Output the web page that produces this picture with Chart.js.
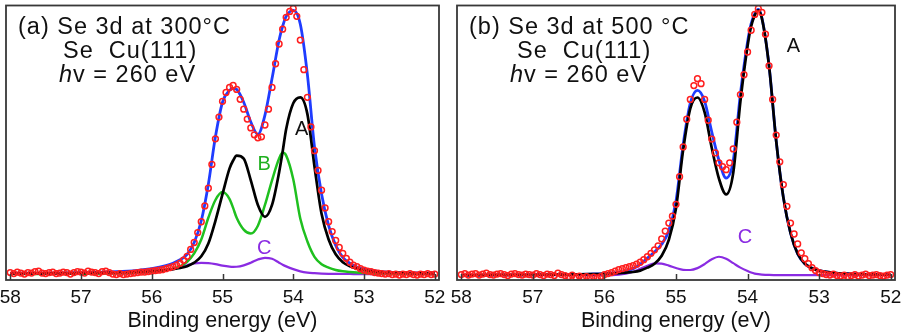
<!DOCTYPE html>
<html>
<head>
<meta charset="utf-8">
<title>Se 3d XPS on Cu(111)</title>
<script src="https://cdn.jsdelivr.net/npm/chart.js@4.4.0/dist/chart.umd.min.js"></script>
<style>
  html, body { margin: 0; padding: 0; background: #fff; }
  .wrap { position: relative; width: 902px; height: 334px; overflow: hidden; }
  .panel { position: absolute; top: 0; }
  #panel-a { left: 0; }
  #panel-b { left: 450px; }
</style>
</head>
<body>
<div class="wrap">
  <div class="panel" id="panel-a"><canvas id="chart-a" width="450" height="334"></canvas></div>
  <div class="panel" id="panel-b"><canvas id="chart-b" width="452" height="334"></canvas></div>
</div>
<script>
/* ---------- axis ---------- */
const tickEnergies = [58, 57, 56, 55, 54, 53, 52];

/* measured spectra share one energy grid (eV) */
const dataEnergy = [
  58.00,57.95,57.90,57.85,57.80,57.75,57.70,57.65,57.60,57.55,
  57.50,57.45,57.40,57.35,57.30,57.25,57.20,57.15,57.10,57.05,
  57.00,56.95,56.90,56.85,56.80,56.75,56.70,56.65,56.60,56.55,
  56.50,56.45,56.40,56.35,56.30,56.25,56.20,56.15,56.10,56.05,
  56.00,55.95,55.90,55.85,55.80,55.75,55.70,55.65,55.60,55.55,
  55.50,55.45,55.40,55.35,55.30,55.25,55.20,55.15,55.10,55.05,
  55.00,54.95,54.90,54.85,54.80,54.75,54.70,54.65,54.60,54.55,
  54.50,54.45,54.40,54.35,54.30,54.25,54.20,54.15,54.10,54.05,
  54.00,53.95,53.90,53.85,53.80,53.75,53.70,53.65,53.60,53.55,
  53.50,53.45,53.40,53.35,53.30,53.25,53.20,53.15,53.10,53.05,
  53.00,52.95,52.90,52.85,52.80,52.75,52.70,52.65,52.60,52.55,
  52.50,52.45,52.40,52.35,52.30,52.25,52.20,52.15,52.10,52.05,
  52.00
];

/* ---------- (a) 300 °C ---------- */
const a300Data = [
  2.5,1.5,3.0,2.0,1.0,2.5,2.0,3.5,4.0,2.0,
  1.5,2.5,3.0,1.5,2.0,3.0,2.5,1.0,2.5,3.5,
  3.0,2.0,4.0,3.0,2.5,1.5,3.5,4.0,2.5,1.0,
  0.5,1.5,0.5,1.0,1.5,2.0,2.5,3.0,3.0,3.5,
  4.0,4.5,5.0,5.5,6.5,7.5,8.5,10.0,12.0,15.0,
  19,26,33,43,54,70,88,112,138,160,
  176,185,190,192,188,178,168,158,149,142,
  139,140,152,168,190,214,234,249,261,267,
  270,262,238,208,180,150,126,106,86,68,
  54,44,35,28,22,17,13,10,8.5,6.5,
  5.0,4.0,3.5,2.5,2.0,1.5,1.0,1.5,0.5,1.0,
  0.0,1.0,0.5,1.5,0.5,0.0,1.0,0.5,1.5,0.5,
  1.0
];
const a300Energy = [58, 57.5, 57, 56.5, 56.2, 56.0, 55.8, 55.7, 55.6, 55.5,
  55.4, 55.3, 55.2, 55.1, 55.0, 54.9, 54.85, 54.8, 54.7, 54.6,
  54.5, 54.4, 54.3, 54.2, 54.15, 54.1, 54.0, 53.9, 53.8, 53.7,
  53.6, 53.5, 53.4, 53.3, 53.2, 53.1, 53.0, 52.8, 52.6, 52.4, 52.0];
const a300Total = [1.8, 2.0, 2.4, 3.4, 4.8, 6.5, 9.5, 12, 15.5, 21,
  33, 55, 92, 140, 175, 187, 189, 188, 175, 155,
  142.5, 162, 199, 238, 252, 262, 268, 254, 203, 130,
  82, 50, 30, 18, 12, 8, 6, 3.8, 2.8, 2.3, 2.0];
const a300CompA = [1.5, 1.7, 2.0, 2.6, 3.3, 4.0, 5.2, 6.0, 7.2, 9.0,
  12.5, 19, 32, 55, 82, 108, 116, 121, 118, 96,
  71, 59, 71, 104, 125, 148, 174, 180, 163, 110,
  62, 36, 21, 13, 9, 6.5, 5, 3.3, 2.5, 2.0, 1.6];
const a300CompB = [1.0, 1.2, 1.4, 1.9, 2.6, 3.4, 4.8, 6.3, 8.8, 13.5,
  22, 36, 58, 76, 84, 77, 68, 58, 46, 42,
  50, 71, 96, 118, 124, 121, 97, 57, 34, 18.5,
  11, 7.5, 5.2, 3.9, 3.1, 2.5, 2.1, 1.6, 1.3, 1.2, 1.0];
const a300CompC = [1.2, 1.2, 1.3, 1.5, 2.0, 2.8, 4.5, 6.0, 8.0, 10.0,
  11.8, 12.3, 12.0, 11.0, 9.5, 8.5, 8.3, 8.4, 9.8, 12.5,
  15.8, 17.5, 16.5, 12.5, 10.5, 8.8, 6.0, 3.8, 2.5, 1.9,
  1.5, 1.3, 1.2, 1.1, 1.1, 1.0, 1.0, 1.0, 1.0, 1.0, 1.0];

/* ---------- (b) 500 °C ---------- */
const b500Data = [
  1.0,2.0,0.5,1.5,2.0,0.5,1.5,2.5,1.0,0.5,
  1.5,2.0,1.0,0.0,1.5,2.0,1.0,0.5,1.5,1.0,
  0.5,2.0,1.0,0.0,1.5,1.0,0.0,2.5,1.0,0.0,
  -1.0,0.5,-1.5,-0.5,-2.0,-1.0,-2.5,-1.5,-2.5,-1.0,
  1.0,2.0,3.0,4.5,6.0,7.0,8.0,9.0,10.0,11.5,
  13.5,16,19,22.5,26,30,37,45,53,60,
  72,100,130,158,178,192,199,194,178,157,
  138,124,114,110,107,114,128,155,183,203,
  226,248,264,270,266,244,212,178,142,115,
  92,70,53,42,32,23,17,12,8,5,
  3.0,2.0,1.0,0.5,1.5,0.0,-0.5,0.5,-1.0,0.0,
  1.0,-0.5,0.5,1.5,0.0,0.5,1.0,0.0,-0.5,0.5,
  1.0
];
const b500Energy = [58, 57.5, 57, 56.5, 56.2, 56.0, 55.8, 55.7, 55.6, 55.5,
  55.4, 55.3, 55.2, 55.1, 55.0, 54.9, 54.8, 54.7, 54.6, 54.5,
  54.4, 54.3, 54.2, 54.1, 54.0, 53.95, 53.9, 53.85, 53.8, 53.7,
  53.6, 53.5, 53.4, 53.3, 53.2, 53.1, 53.0, 52.8, 52.6, 52.4, 52.0];
const b500Total = [0.5, 0.6, 0.8, 1.0, 1.5, 2.0, 3.1, 4.6, 7.0, 11.4,
  17.6, 23.9, 31.6, 45.6, 75.2, 132.4, 174.2, 187.1, 176.1, 145.1,
  116.6, 98.6, 116.1, 183.6, 236.1, 254.6, 264.6, 269, 260.6, 212.2,
  136.1, 79, 43, 22, 12, 7.5, 5, 2.8, 1.8, 1.3, 0.8];
const b500CompA = [0.5, 0.6, 0.8, 1.0, 1.4, 1.8, 2.5, 3.0, 3.6, 5.0,
  8.0, 12, 20, 36, 68, 127, 169, 180, 165, 129,
  98, 82, 104, 176, 232, 252, 263, 268, 260, 212,
  136, 79, 43, 22, 12, 7.5, 5.0, 2.8, 1.8, 1.3, 0.8];
const b500CompC = [0.3, 0.3, 0.3, 0.4, 0.5, 0.5, 1.0, 2.0, 3.8, 6.8,
  10.0, 12.3, 12.0, 10.0, 7.6, 5.8, 5.6, 7.5, 11.5, 16.5,
  19.0, 17.0, 12.5, 8.0, 4.5, 3.0, 2.0, 1.4, 1.0, 0.6,
  0.5, 0.4, 0.4, 0.4, 0.4, 0.4, 0.4, 0.4, 0.4, 0.4, 0.4];

const FONT = '"Liberation Sans", Arial, Helvetica, sans-serif';
const pts = (xs, ys) => xs.map((x, i) => ({ x, y: ys[i] }));

// frame, inward bottom ticks, header block and peak labels
const panelDecor = {
  id: 'panelDecor',
  afterDatasetsDraw(chart, args, o) {
    const { ctx, chartArea: a } = chart;
    const xs = chart.scales.x, ys = chart.scales.y;
    ctx.save();
    ctx.strokeStyle = '#383838';
    ctx.lineWidth = 1.8;
    ctx.strokeRect(a.left, a.top, a.right - a.left, a.bottom - a.top);
    ctx.lineWidth = 1.5;
    ctx.beginPath();
    xs.ticks.forEach(t => {
      const px = Math.round(xs.getPixelForValue(t.value)) + 0.5;
      ctx.moveTo(px, a.bottom);
      ctx.lineTo(px, a.bottom - 6);
    });
    ctx.stroke();

    ctx.fillStyle = '#111';
    ctx.textBaseline = 'alphabetic';
    ctx.textAlign = 'left';
    ctx.letterSpacing = '1px';
    ctx.font = `23.5px ${FONT}`;
    ctx.fillText(o.title, o.left[0], 34);
    ctx.fillText(o.sample, o.left[1], 58);
    ctx.font = `italic 23.5px ${FONT}`;
    ctx.fillText('h', o.left[2], 82);
    const hw = ctx.measureText('h').width;
    ctx.font = `23.5px ${FONT}`;
    ctx.fillText(o.photon, o.left[2] + hw, 82);

    ctx.letterSpacing = '0px';
    ctx.font = `20px ${FONT}`;
    ctx.textAlign = 'center';
    ctx.textBaseline = 'middle';
    o.labels.forEach(l => {
      ctx.fillStyle = l.color;
      ctx.fillText(l.text, xs.getPixelForValue(l.e), ys.getPixelForValue(l.i));
    });
    ctx.restore();
  }
};

function lineSet(label, energy, values, color, width, order) {
  return {
    label, data: pts(energy, values), borderColor: color, borderWidth: width,
    pointRadius: 0, fill: false, cubicInterpolationMode: 'monotone', order
  };
}

function dataSet(values) {
  return {
    label: 'data', data: pts(dataEnergy, values), showLine: false,
    pointStyle: 'circle', pointRadius: 2.9, pointBorderWidth: 1.5,
    pointBorderColor: '#ff1f1f', pointBackgroundColor: 'rgba(0,0,0,0)', order: 0
  };
}

function makePanel(id, datasets, pad, yMin, decor) {
  return new Chart(document.getElementById(id), {
    type: 'line',
    data: { datasets },
    plugins: [panelDecor],
    options: {
      responsive: false, animation: false, devicePixelRatio: 1, events: [],
      layout: { padding: pad },
      plugins: { legend: { display: false }, tooltip: { enabled: false }, panelDecor: decor },
      scales: {
        x: {
          type: 'linear', reverse: true, min: 51.94, max: 58.06,
          afterBuildTicks: s => { s.ticks = tickEnergies.map(v => ({ value: v })); },
          afterFit: s => { s.height = 54; s.paddingLeft = 0; s.paddingRight = 0; },
          grid: { display: false, drawTicks: false },
          border: { display: false },
          ticks: { color: '#111', font: { family: FONT, size: 19 }, padding: 6, maxRotation: 0, autoSkip: false,
                   callback: v => String(v) },
          title: { display: true, text: 'Binding energy (eV)', color: '#111',
                   font: { family: FONT, size: 21.5 }, padding: { top: 0, bottom: 0 } }
        },
        y: { display: false, min: yMin, max: 273 }
      }
    }
  });
}

makePanel('chart-a', [
  dataSet(a300Data),
  lineSet('A', a300Energy, a300CompA, '#000000', 2.7, 1),
  lineSet('fit', a300Energy, a300Total, '#1f3cff', 2.8, 2),
  lineSet('B', a300Energy, a300CompB, '#1fc01f', 2.5, 3),
  lineSet('C', a300Energy, a300CompC, '#8a2be2', 2.2, 4)
], { left: 6, right: 11, top: 2, bottom: 0 }, -5, {
  title: '(a) Se 3d at 300°C', sample: 'Se  Cu(111)', photon: 'v = 260 eV', left: [18, 63, 59],
  labels: [
    { text: 'A', e: 53.88, i: 147, color: '#111' },
    { text: 'B', e: 54.41, i: 112, color: '#1fb01f' },
    { text: 'C', e: 54.41, i: 27, color: '#8a2be2' }
  ]
});

makePanel('chart-b', [
  dataSet(b500Data),
  lineSet('A', b500Energy, b500CompA, '#000000', 2.7, 1),
  lineSet('fit', b500Energy, b500Total, '#1f3cff', 2.8, 2),
  lineSet('C', b500Energy, b500CompC, '#8a2be2', 2.2, 3)
], { left: 7, right: 7, top: 2, bottom: 0 }, -4.5, {
  title: '(b) Se 3d at 500 °C', sample: 'Se  Cu(111)', photon: 'v = 260 eV', left: [19, 67, 60],
  labels: [
    { text: 'A', e: 53.36, i: 232, color: '#111' },
    { text: 'C', e: 54.035, i: 38, color: '#8a2be2' }
  ]
});
</script>
</body>
</html>
